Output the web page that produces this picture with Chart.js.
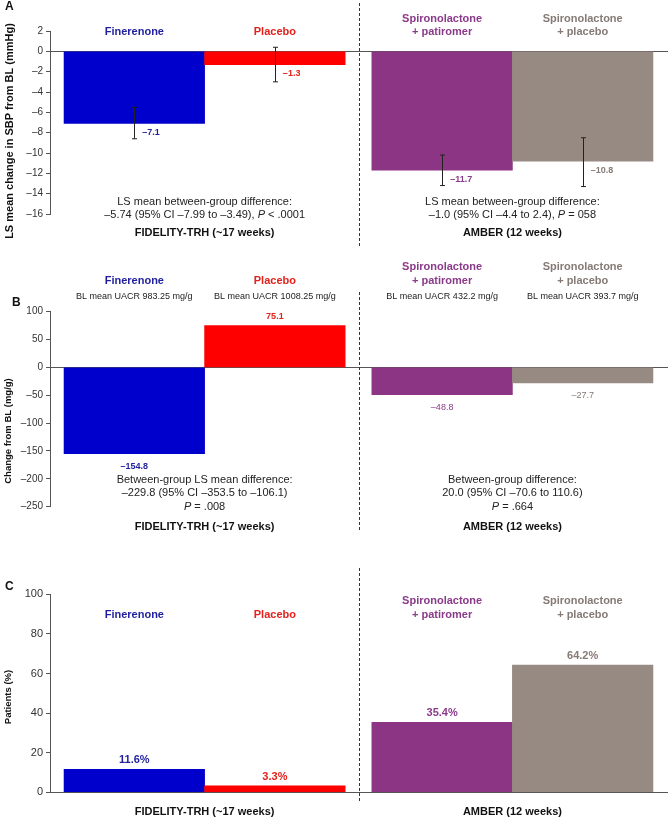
<!DOCTYPE html>
<html>
<head>
<meta charset="utf-8">
<script src="https://cdn.jsdelivr.net/npm/chart.js@4.4.0/dist/chart.umd.min.js"></script>
<style>
  html, body { margin: 0; padding: 0; background: #fff; }
  .panel { position: absolute; left: 0; width: 672px; }
  canvas { display: block; }
</style>
</head>
<body>
<div class="panel" style="top:0"><canvas id="chartA" width="672" height="260"></canvas></div>
<div class="panel" style="top:260px"><canvas id="chartB" width="672" height="280"></canvas></div>
<div class="panel" style="top:540px"><canvas id="chartC" width="672" height="280"></canvas></div>
<script>
const FONT = "'Liberation Sans', Arial, sans-serif"

// Treatment arms, same order in every panel
const arms = [['Finerenone'], ['Placebo'], ['Spironolactone', '+ patiromer'], ['Spironolactone', '+ placebo']]
const studies = ['FIDELITY-TRH (~17 weeks)', 'AMBER (12 weeks)']

// A: LS mean change in SBP from BL (mmHg), with 95% CI
const sbpChange = [-7.1, -1.3, -11.7, -10.8]
const sbpLower = [-8.6, -3.0, -13.2, -13.3]
const sbpUpper = [-5.5, 0.4, -10.2, -8.5]
const sbpDiff = [
  [['LS mean between-group difference:'], ['–5.74 (95% CI –7.99 to –3.49), ', 'P', ' < .0001']],
  [['LS mean between-group difference:'], ['–1.0 (95% CI –4.4 to 2.4), ', 'P', ' = 058']]
]

// B: change in UACR from BL (mg/g)
const uacrChange = [-154.8, 75.1, -48.8, -27.7]
const uacrBaseline = ['BL mean UACR 983.25 mg/g', 'BL mean UACR 1008.25 mg/g', 'BL mean UACR 432.2 mg/g', 'BL mean UACR 393.7 mg/g']
const uacrDiff = [
  [['Between-group LS mean difference:'], ['–229.8 (95% CI –353.5 to –106.1)'], ['', 'P', ' = .008']],
  [['Between-group difference:'], ['20.0 (95% CI –70.6 to 110.6)'], ['', 'P', ' = .664']]
]

// C: patients (%)
const patientsPct = [11.6, 3.3, 35.4, 64.2]

const armColors = ['#0000cc', '#ff0000', '#8b3584', '#978a83']
const armTextColors = ['#1f1f9e', '#e3201b', '#8b3a8a', '#857a75']

// small gap between the two studies on the x axis
const armPos = i => i + (i >= 2 ? 0.19 : 0)

const dash = v => (v < 0 ? '–' : '') + Math.abs(v)
const fmt1 = v => (v < 0 ? '–' : '') + Math.abs(v).toFixed(1)

function font(size, weight, style) {
  return `${style || 'normal'} ${weight || 'normal'} ${size}px ${FONT}`
}

// draws a line made of parts; odd parts are italic
function richText(ctx, parts, cx, y, size) {
  let total = 0
  parts.forEach((p, i) => {
    ctx.font = font(size, 'normal', i % 2 ? 'italic' : 'normal')
    total += ctx.measureText(p).width
  })
  let x = cx - total / 2
  ctx.textAlign = 'left'
  parts.forEach((p, i) => {
    ctx.font = font(size, 'normal', i % 2 ? 'italic' : 'normal')
    ctx.fillText(p, x, y)
    x += ctx.measureText(p).width
  })
}

function panelPlugin(cfg) {
  return {
    id: 'panelText' + cfg.letter,
    afterDraw(chart) {
      const ctx = chart.ctx
      const xs = chart.scales.x
      const ys = chart.scales.y
      const px = cfg.values.map((v, i) => xs.getPixelForValue(armPos(i)))
      ctx.save()
      ctx.textBaseline = 'middle'

      // panel letter
      ctx.fillStyle = '#111'
      ctx.textAlign = 'left'
      ctx.font = font(12, 'bold')
      ctx.fillText(cfg.letter, cfg.letterPos[0], cfg.letterPos[1])

      // y axis title
      ctx.save()
      ctx.translate(cfg.titlePos[0], cfg.titlePos[1])
      ctx.rotate(-Math.PI / 2)
      ctx.textAlign = 'center'
      ctx.font = font(cfg.titleSize, 'bold')
      ctx.fillText(cfg.yTitle, 0, 0)
      ctx.restore()

      // dashed divider between studies
      const divX = Math.round((xs.getPixelForValue(1.5) + xs.getPixelForValue(armPos(2) - 0.5)) / 2) + 0.5
      ctx.strokeStyle = '#333'
      ctx.lineWidth = 1
      ctx.setLineDash([3, 2])
      ctx.beginPath()
      ctx.moveTo(divX, cfg.divider[0])
      ctx.lineTo(divX, cfg.divider[1])
      ctx.stroke()
      ctx.setLineDash([])

      // error bars
      if (cfg.lower) {
        ctx.strokeStyle = '#222'
        cfg.values.forEach((v, i) => {
          const x = Math.round(px[i]) + 0.5
          const y1 = ys.getPixelForValue(cfg.lower[i])
          const y2 = ys.getPixelForValue(cfg.upper[i])
          ctx.beginPath()
          ctx.moveTo(x, y1); ctx.lineTo(x, y2)
          ctx.moveTo(x - 2.5, y1); ctx.lineTo(x + 2.5, y1)
          ctx.moveTo(x - 2.5, y2); ctx.lineTo(x + 2.5, y2)
          ctx.stroke()
        })
      }

      // arm labels and notes
      arms.forEach((lines, i) => {
        ctx.fillStyle = armTextColors[i]
        ctx.textAlign = 'center'
        ctx.font = font(11, 'bold')
        lines.forEach((t, j) => {
          ctx.fillText(t, px[i], cfg.armLabelY - (lines.length - 1 - j) * 13.5)
        })
        if (cfg.notes) {
          ctx.fillStyle = '#222'
          ctx.font = font(9)
          ctx.fillText(cfg.notes[i], px[i], cfg.noteY)
        }
      })

      // value labels
      cfg.values.forEach((v, i) => {
        const end = ys.getPixelForValue(v)
        ctx.fillStyle = armTextColors[i]
        ctx.font = font(cfg.valueSize, cfg.valueBold[i] ? 'bold' : 'normal')
        const txt = cfg.valueText(v)
        if (cfg.valueStyle === 'side') {
          ctx.textAlign = 'left'
          ctx.fillText(txt, px[i] + 8, end + 9)
        } else {
          ctx.textAlign = 'center'
          ctx.fillText(txt, px[i], v < 0 ? end + 13 : end - 9)
        }
      })

      // study footnotes
      ;[0, 1].forEach(g => {
        const cx = (px[g * 2] + px[g * 2 + 1]) / 2
        ctx.fillStyle = '#222'
        if (cfg.diff) {
          cfg.diff[g].forEach((parts, j) => richText(ctx, parts, cx, cfg.diffY + j * 13.3, 11))
        }
        ctx.fillStyle = '#111'
        ctx.textAlign = 'center'
        ctx.font = font(11, 'bold')
        ctx.fillText(studies[g], cx, cfg.studyY)
      })
      ctx.restore()
    }
  }
}

function makePanel(canvasId, cfg) {
  const ctx = document.getElementById(canvasId).getContext('2d')
  return new Chart(ctx, {
    type: 'bar',
    data: {
      datasets: [{
        data: cfg.values.map((v, i) => ({ x: armPos(i), y: v })),
        backgroundColor: armColors,
        borderWidth: 0,
        barPercentage: 1,
        categoryPercentage: 1
      }]
    },
    options: {
      responsive: false,
      animation: false,
      layout: { padding: { top: cfg.padTop, bottom: cfg.padBottom, left: 0, right: 5 } },
      plugins: { legend: { display: false }, tooltip: { enabled: false } },
      scales: {
        x: {
          type: 'linear',
          min: -0.6,
          max: 3.79,
          position: { y: 0 },
          grid: { display: false },
          ticks: { display: false },
          border: { display: true, color: '#555', width: 1 },
          afterBuildTicks: s => { s.ticks = [] }
        },
        y: {
          min: cfg.yMin,
          max: cfg.yMax,
          ticks: {
            stepSize: cfg.yStep,
            color: '#333',
            padding: 3,
            font: { size: cfg.tickSize, family: FONT },
            callback: v => dash(v)
          },
          grid: { display: true, drawOnChartArea: false, drawTicks: true, tickLength: 4, color: '#555' },
          border: { display: true, color: '#555', width: 1 },
          afterFit: s => { s.width = 50 }
        }
      }
    },
    plugins: [panelPlugin(cfg)]
  })
}

makePanel('chartA', {
  letter: 'A', letterPos: [5, 7],
  values: sbpChange, lower: sbpLower, upper: sbpUpper,
  yMin: -16, yMax: 2, yStep: 2, tickSize: 10,
  yTitle: 'LS mean change in SBP from BL (mmHg)', titleSize: 11, titlePos: [10, 131],
  padTop: 31, padBottom: 46,
  armLabelY: 32,
  valueStyle: 'side', valueSize: 9, valueBold: [true, true, true, true], valueText: fmt1,
  diff: sbpDiff, diffY: 202, studyY: 233,
  divider: [3, 246]
})

makePanel('chartB', {
  letter: 'B', letterPos: [12, 43],
  values: uacrChange,
  yMin: -250, yMax: 100, yStep: 50, tickSize: 10,
  yTitle: 'Change from BL (mg/g)', titleSize: 9.5, titlePos: [8, 171],
  padTop: 51.7, padBottom: 33.3,
  armLabelY: 20.5, notes: uacrBaseline, noteY: 36.7,
  valueStyle: 'end', valueSize: 9, valueBold: [true, true, false, false], valueText: fmt1,
  diff: uacrDiff, diffY: 220, studyY: 267,
  divider: [32, 272]
})

makePanel('chartC', {
  letter: 'C', letterPos: [5, 47],
  values: patientsPct,
  yMin: 0, yMax: 100, yStep: 20, tickSize: 11,
  yTitle: 'Patients (%)', titleSize: 9.5, titlePos: [8, 157],
  padTop: 54.3, padBottom: 27.7,
  armLabelY: 74.5,
  valueStyle: 'end', valueSize: 11, valueBold: [true, true, true, true], valueText: v => v.toFixed(1) + '%',
  diff: null, studyY: 271.7,
  divider: [28, 262]
})
</script>
</body>
</html>
